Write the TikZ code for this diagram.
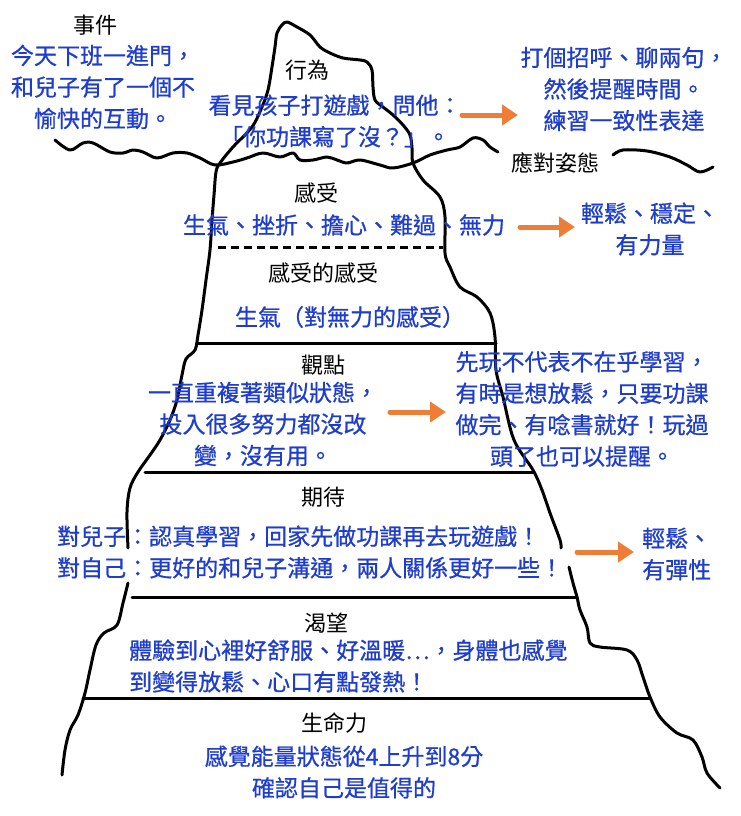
\documentclass[tikz,border=0pt]{standalone}
\usepackage{fontspec}
\newfontfamily\cjk{Noto Sans CJK TC}
\newfontfamily\cjkink[FakeBold=0.7]{Noto Sans CJK TC}
\usetikzlibrary{arrows.meta}
\definecolor{inkblue}{RGB}{30,60,205}
\definecolor{arroworange}{RGB}{238,125,55}
\begin{document}
\begin{tikzpicture}[x=1pt,y=-1pt, line join=round, line cap=round,
	levelname/.style={font=\cjk\fontsize{22}{30}\selectfont, inner sep=0pt},
	bluetxt/.style={font=\cjkink\fontsize{23}{31.5}\selectfont, text=inkblue, inner sep=0pt, align=center},
	shore/.style={line width=3pt, smooth, tension=0.55},
	layer/.style={line width=3pt},
	orangearrow/.style={-{Triangle[length=16pt,width=20pt]}, line width=5pt, arroworange}]
			\useasboundingbox (0,0) rectangle (740,816);
			\draw[shore] plot coordinates {(55,140) (70,150) (83,143) (93,143) (110,152) (123,153) (133,150) (143,152) (157,158) (173,153) (187,153) (200,158) (215,165) (233,162) (247,158) (263,153) (280,157) (293,153) (300,160) (313,160) (327,157) (337,160) (347,163) (360,160) (380,165) (393,168) (413,163) (430,155) (447,150) (460,147) (473,138) (483,140) (490,147) (498,152)};
			\draw[shore] plot coordinates {(613,155) (623,150) (647,151) (670,157) (687,165) (700,172) (713,167)};
			\draw[shore] plot coordinates {(128,548) (127,512) (130,488) (138,472) (150,455) (160,440) (170,420) (177,400) (182,375) (186,359) (195,350) (198,335) (202,310) (206,280) (210,250) (212,220) (214,195) (216,172) (220,163) (233,147) (252,127) (262,107) (268,90) (272,67) (275,47) (277,33) (282,25) (287,22) (297,27) (310,35) (320,47) (330,53) (343,58) (360,60) (367,62) (372,70) (373,87) (375,100) (383,107) (393,115) (403,125) (410,135) (412,148) (413,163) (423,180) (440,197) (445,217) (445,253) (450,267) (460,287) (477,297) (490,313) (495,337) (496,370) (503,397) (514,440) (533,470) (542,490) (550,513) (560,540) (561,548)};
			\draw[shore] plot coordinates {(128,583) (123,603) (117,625) (104,633) (96,645) (90,670) (85,693) (78,715) (70,730) (65,750) (62,775)};
			\draw[shore] plot coordinates {(569,567) (573,583) (577,597) (580,610) (587,627) (590,643) (600,647) (627,650) (637,660) (643,677) (650,697) (660,717) (677,733) (693,740) (702,757) (707,773) (720,788)};
			\draw[layer, line cap=butt, dash pattern=on 8pt off 5pt] (218,247) -- (443,247);
			\draw[layer] (197,343) -- (496,343);
			\draw[layer] (145,472) -- (533,472);
			\draw[layer] (132,597) -- (577,597);
			\draw[layer] (83,698) -- (650,698);
			\node[levelname] (event) at (95,25) {事件};
			\node[bluetxt] (eventtxt) at (103,87) {今天下班一進門，\\和兒子有了一個不\\愉快的互動。};
			\node[levelname] (behave) at (307,70) {行為};
			\node[bluetxt] (behavetxt) at (335,121) {看見孩子打遊戲，問他：\\「你功課寫了沒？」。};
			\node[levelname] (cope) at (555,163) {應對姿態};
			\node[bluetxt] (copetxt) at (624,89) {打個招呼、聊兩句，\\然後提醒時間。\\練習一致性表達};
			\node[levelname] (feel) at (316,193) {感受};
			\node[bluetxt] (feeltxt) at (344,225) {生氣、挫折、擔心、難過、無力};
			\node[bluetxt] (feelnew) at (650,229) {輕鬆、穩定、\\有力量};
			\node[levelname] (feelfeel) at (323,273) {感受的感受};
			\node[bluetxt] (feelfeeltxt) at (350,317) {生氣（對無力的感受）};
			\node[levelname] (view) at (323,365) {觀點};
			\node[bluetxt] (viewtxt) at (263,424) {一直重複著類似狀態，\\投入很多努力都沒改\\變，沒有用。};
			\node[bluetxt] (viewnew) at (582,409) {先玩不代表不在乎學習，\\有時是想放鬆，只要功課\\做完、有唸書就好！玩過\\頭了也可以提醒。};
			\node[levelname] (expect) at (323,497) {期待};
			\node[bluetxt, anchor=west, align=left] (expecttxt) at (57,552) {對兒子：認真學習，回家先做功課再去玩遊戲！\\對自己：更好的和兒子溝通，兩人關係更好一些！};
			\node[bluetxt, anchor=west, align=left] (expectnew) at (642,554) {輕鬆、\\有彈性};
			\node[levelname] (yearn) at (326,623) {渴望};
			\node[bluetxt, anchor=west, align=left] (yearntxt) at (129,666) {體驗到心裡好舒服、好溫暖…，身體也感覺\\到變得放鬆、心口有點發熱！};
			\node[levelname] (life) at (334,723) {生命力};
			\node[bluetxt] (lifetxt) at (344,772) {感覺能量狀態從4上升到8分\\確認自己是值得的};
			\coordinate (arr1s) at (462,115);
			\coordinate (arr1e) at (518,115);
			\coordinate (arr2s) at (520,227);
			\coordinate (arr2e) at (575,227);
			\coordinate (arr3s) at (390,412);
			\coordinate (arr3e) at (446,412);
			\coordinate (arr4s) at (577,552);
			\coordinate (arr4e) at (634,552);
			\draw[orangearrow] (arr1s) -- (arr1e);
			\draw[orangearrow] (arr2s) -- (arr2e);
			\draw[orangearrow] (arr3s) -- (arr3e);
			\draw[orangearrow] (arr4s) -- (arr4e);
		\end{tikzpicture}
\end{document}
